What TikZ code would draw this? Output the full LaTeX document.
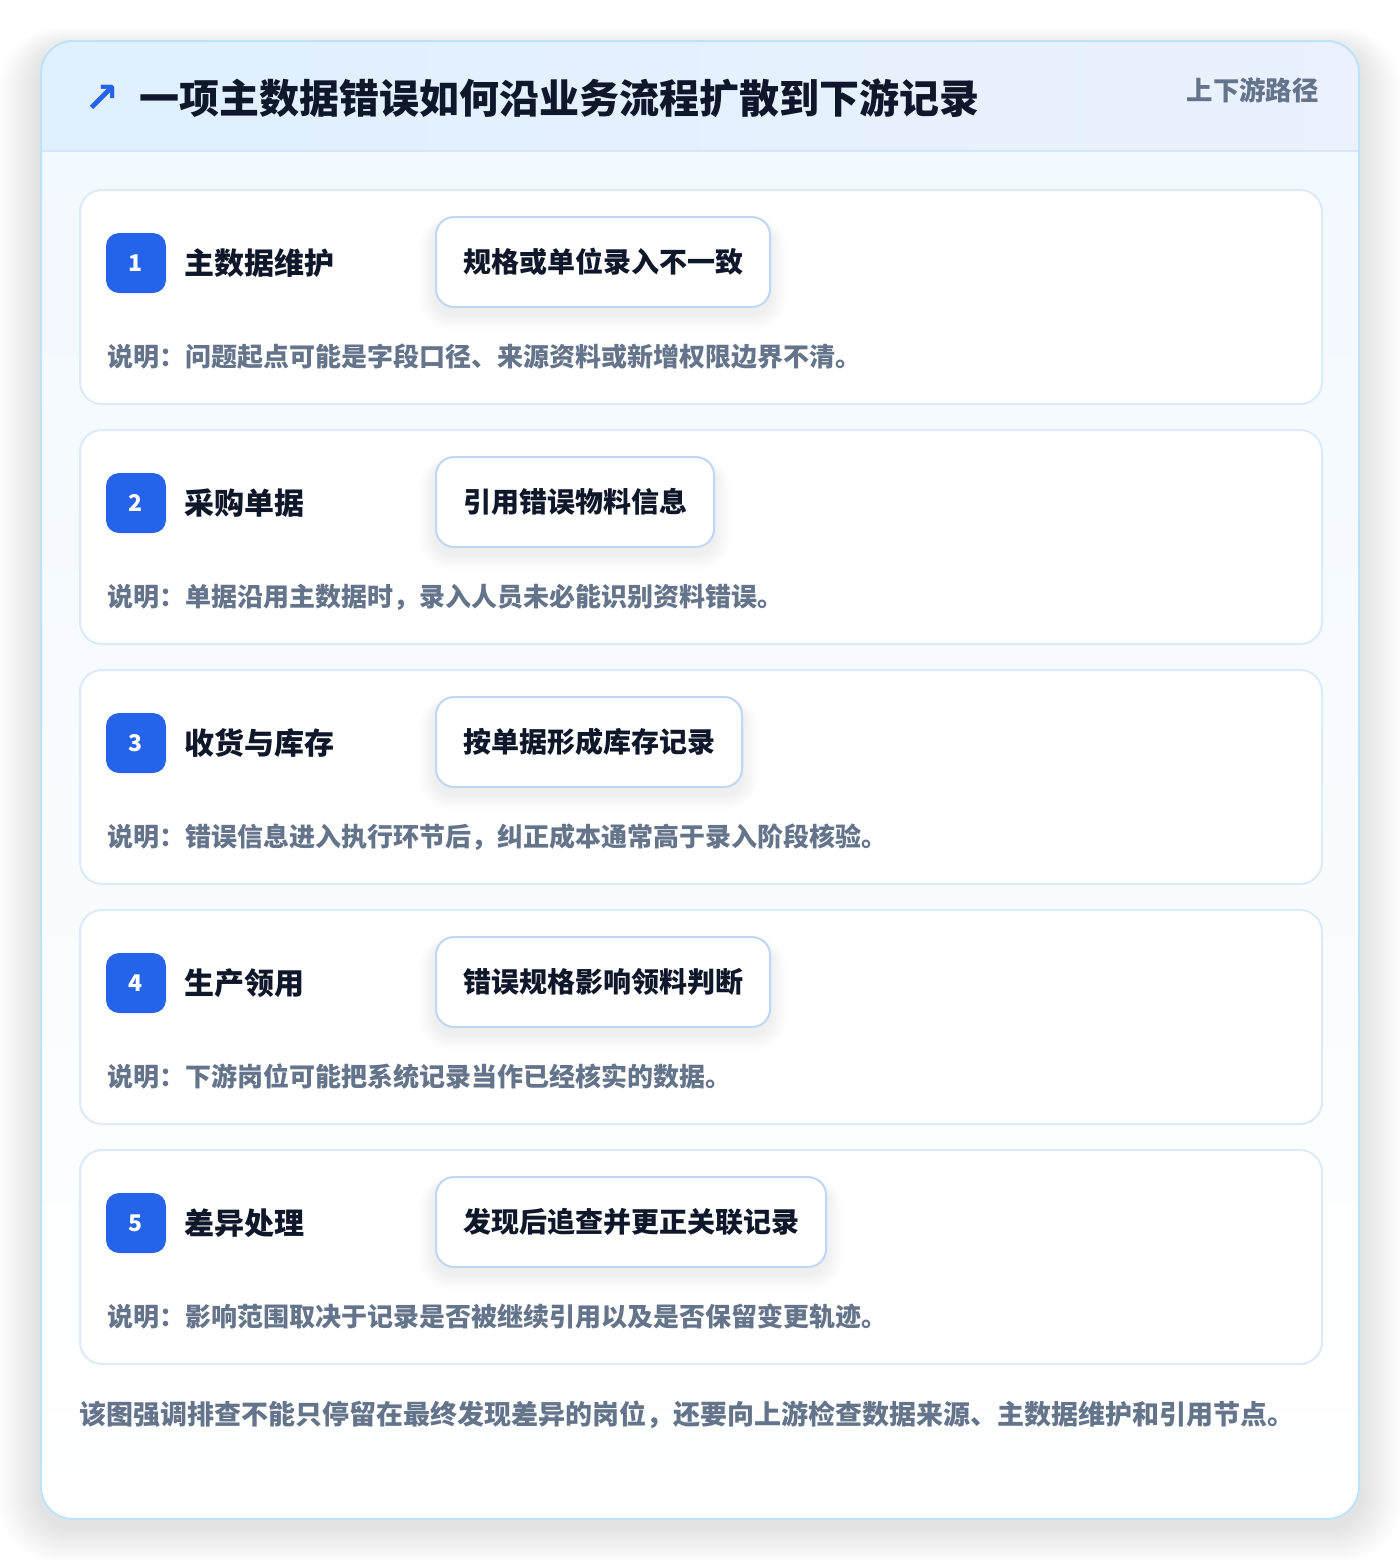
\documentclass[tikz,border=0pt]{standalone}
\usepackage{fontspec}
\setmainfont{Noto Sans CJK SC}
\newfontfamily\symfont{DejaVu Sans}
\definecolor{pagebg}{HTML}{FFFFFF}
\definecolor{outerborder}{HTML}{BEE3F8}
\definecolor{hdrL}{HTML}{DFF0FE}
\definecolor{hdrR}{HTML}{EBF1FE}
\definecolor{hdrline}{HTML}{D6E7FA}
\definecolor{bodytop}{HTML}{F1F8FF}
\definecolor{cardborder}{HTML}{DCEAFA}
\definecolor{tagborder}{HTML}{BFD7F4}
\definecolor{badge}{HTML}{2563EB}
\definecolor{ink}{HTML}{0F172A}
\definecolor{muted}{HTML}{64748B}
\tikzset{
  cardbox/.style={draw=cardborder, line width=1pt, fill=white, rounded corners=11pt,
    minimum width=621pt, minimum height=107pt, anchor=north west, inner sep=0pt},
  badgebox/.style={fill=badge, rounded corners=6.5pt, minimum width=30pt, minimum height=30pt,
    inner sep=0pt, text=white, font=\bfseries\fontsize{11.5}{13}\selectfont},
  labeltext/.style={anchor=west, inner sep=0pt, text=ink, font=\bfseries\fontsize{15}{18}\selectfont},
  tagshape/.style={minimum height=45pt, inner xsep=13.5pt, anchor=west,
    font=\bfseries\fontsize{14}{17}\selectfont},
  tagbox/.style={tagshape, draw=tagborder, line width=1pt, fill=white, rounded corners=9pt, text=ink},
  desctext/.style={anchor=west, inner sep=0pt, text=muted, font=\bfseries\fontsize{13}{16}\selectfont},
}
\begin{document}
\begin{tikzpicture}[x=0.5pt,y=-0.5pt]
\useasboundingbox (0,0) rectangle (1400,1560);
\fill[pagebg] (0,0) rectangle (1400,1560);
% outer shadow
\foreach \k in {1,...,14}{
  \fill[black, opacity=0.008, rounded corners=16pt+\k*1pt]
    (41-\k*3, 41-\k*1.5+8) rectangle (1359+\k*3, 1519+\k*2.5+8);
}
% outer card
\fill[top color=bodytop, bottom color=white, rounded corners=16pt] (41,41) rectangle (1359,1519);
\begin{scope}
  \clip[rounded corners=16pt] (41,41) rectangle (1359,1519);
  \fill[left color=hdrL, right color=hdrR] (41,41) rectangle (1359,151);
  \draw[hdrline, line width=1pt] (41,151) -- (1359,151);
\end{scope}
\draw[outerborder, line width=1pt, rounded corners=16pt] (41,41) rectangle (1359,1519);
% header
\node[anchor=center, inner sep=0pt, text=badge, font=\symfont\bfseries\fontsize{21}{24}\selectfont] (arrow) at (102,99) {↗};
\node[anchor=west, inner sep=0pt, text=ink, font=\bfseries\fontsize{20}{24}\selectfont] (title) at (139,98) {一项主数据错误如何沿业务流程扩散到下游记录};
\node[anchor=east, inner sep=0pt, text=muted, font=\bfseries\fontsize{13.2}{16}\selectfont] (tagline) at (1319,90) {上下游路径};
% cards
\foreach \i/\lab/\tg/\ds in {
  1/主数据维护/规格或单位录入不一致/说明：问题起点可能是字段口径、来源资料或新增权限边界不清。,
  2/采购单据/引用错误物料信息/说明：单据沿用主数据时，录入人员未必能识别资料错误。,
  3/收货与库存/按单据形成库存记录/说明：错误信息进入执行环节后，纠正成本通常高于录入阶段核验。,
  4/生产领用/错误规格影响领料判断/说明：下游岗位可能把系统记录当作已经核实的数据。,
  5/差异处理/发现后追查并更正关联记录/说明：影响范围取决于记录是否被继续引用以及是否保留变更轨迹。}{
  \pgfmathsetmacro{\T}{189+240*(\i-1)}
  \node[cardbox] (card\i) at (79,\T) {};
  \node[badgebox] (badge\i) at (136,\T+74) {\i};
  \node[labeltext] (label\i) at (184,\T+74) {\lab};
  % soft shadow under the tag
  \path node[tagshape] (tagghost\i) at (435,\T+73) {\phantom{\tg}};
  \foreach \s in {1,...,8}{
    \fill[black, opacity=0.007, rounded corners=9pt+\s*0.8pt]
      ([xshift=-\s*1pt, yshift=-3pt-\s*1pt]tagghost\i.south west) rectangle
      ([xshift=\s*1pt, yshift=-3pt+\s*0.3pt]tagghost\i.north east);
  }
  \node[tagbox] (tag\i) at (435,\T+73) {\tg};
  \node[desctext] (desc\i) at (107,\T+168) {\ds};
}
% footer
\node[anchor=west, inner sep=0pt, text=muted, font=\bfseries\fontsize{13.5}{17}\selectfont] (footer) at (79,1415)
  {该图强调排查不能只停留在最终发现差异的岗位，还要向上游检查数据来源、主数据维护和引用节点。};
\end{tikzpicture}
\end{document}
